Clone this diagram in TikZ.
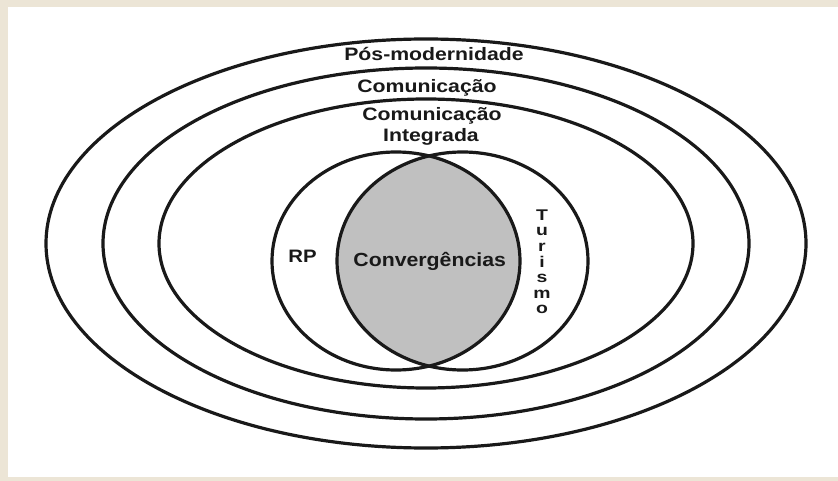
\documentclass[tikz,border=0pt]{standalone}
\usepackage{fontspec}
\setmainfont{Liberation Sans}
\usepackage{graphicx}
\definecolor{bgbeige}{RGB}{236,229,214}
\definecolor{lensgray}{RGB}{192,192,192}
\definecolor{ink}{RGB}{25,25,25}
\newcommand{\wtxt}[2][1.18]{\scalebox{#1}[1]{#2}}
\begin{document}
\begin{tikzpicture}[x=1pt,y=-1pt,
  ring/.style={draw=ink, line width=3.2pt},
  lbl/.style={inner sep=0pt, anchor=base, text=ink, font=\bfseries\fontsize{18}{20}\selectfont},
  vlbl/.style={inner sep=0pt, anchor=north, text=ink, align=center, font=\bfseries\fontsize{15.5}{15.6}\selectfont}]
\useasboundingbox (0,0) rectangle (838,481);
\fill[bgbeige] (0,0) rectangle (838,481);
\fill[white] (8,7) rectangle (838,477);
% lens
\begin{scope}
  \clip (396,261) ellipse [x radius=124pt, y radius=109pt];
  \fill[lensgray] (462.5,261) ellipse [x radius=125.5pt, y radius=109pt];
\end{scope}
% rings
\draw[ring] (426,243.5) ellipse [x radius=380pt, y radius=204.5pt];
\draw[ring] (426,243.5) ellipse [x radius=323pt, y radius=175.5pt];
\draw[ring] (426,243.5) ellipse [x radius=267pt, y radius=144.5pt];
\draw[ring] (396,261) ellipse [x radius=124pt, y radius=109pt];
\draw[ring] (462.5,261) ellipse [x radius=125.5pt, y radius=109pt];
% labels
\node[lbl] (pos) at (434,61) {\wtxt{Pós-modernidade}};
\node[lbl] (com) at (427,92.5) {\wtxt{Comunicação}};
\node[lbl] (ci1) at (432,121) {\wtxt{Comunicação}};
\node[lbl] (ci2) at (431,141.5) {\wtxt{Integrada}};
\node[lbl] (rp) at (302.5,262.5) {\wtxt[1.13]{RP}};
\node[lbl, font=\bfseries\fontsize{19}{21}\selectfont] (conv) at (429.7,266) {\wtxt[1.12]{Convergências}};
\node[vlbl] (tur) at (542,209.5) {\wtxt[1.25]{T}\\\wtxt[1.25]{u}\\\wtxt[1.25]{r}\\\wtxt[1.25]{i}\\\wtxt[1.25]{s}\\\wtxt[1.25]{m}\\\wtxt[1.25]{o}};
\end{tikzpicture}
\end{document}
